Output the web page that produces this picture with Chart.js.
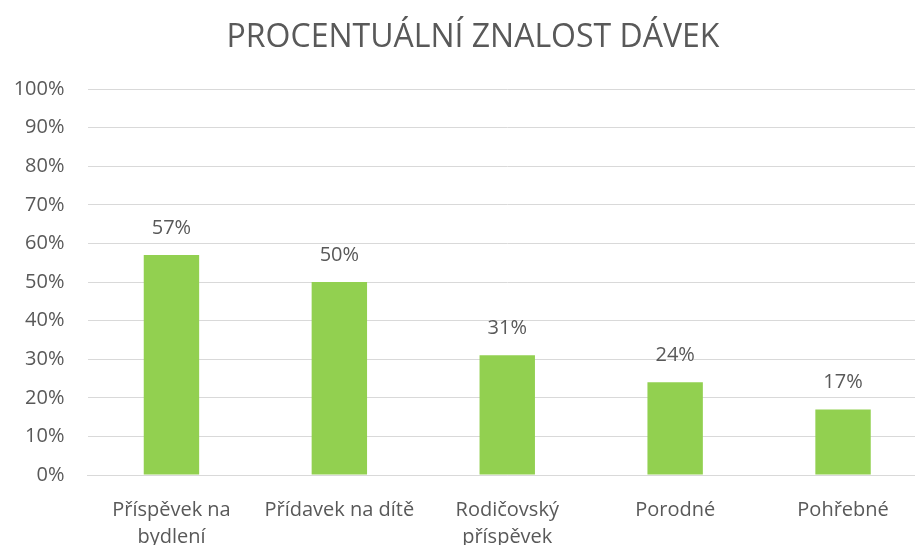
<!DOCTYPE html>
<html>
<head>
<meta charset="utf-8">
<script src="https://cdn.jsdelivr.net/npm/chart.js@4"></script>
<style>
  html, body { margin: 0; padding: 0; overflow: hidden; background: #fff; }
  #wrap { width: 940px; height: 580px; }
</style>
</head>
<body>
<div id="wrap"><canvas id="chart"></canvas></div>
<script>
const categories = [
  ["Příspěvek na", "bydlení"],
  "Přídavek na dítě",
  ["Rodičovský", "příspěvek"],
  "Porodné",
  "Pohřebné",
];
const values = [57, 50, 31, 24, 17];
const yTicks = [0, 10, 20, 30, 40, 50, 60, 70, 80, 90, 100];
const titleText = "PROCENTUÁLNÍ ZNALOST DÁVEK";

const textColor = "#595959";
const fontFamily = "'Open Sans', sans-serif";

// chart title (drawn by hand so it can sit a bit right of the canvas middle)
const titlePlugin = {
  id: "titlePlugin",
  afterDraw(chart) {
    const ctx = chart.ctx;
    ctx.save();
    ctx.fillStyle = textColor;
    ctx.font = "32px " + fontFamily;
    ctx.textAlign = "center";
    ctx.textBaseline = "middle";
    ctx.fillText(titleText, 473, 38);
    ctx.restore();
  },
};

// value labels above the bars
const barLabels = {
  id: "barLabels",
  afterDatasetsDraw(chart) {
    const ctx = chart.ctx;
    const meta = chart.getDatasetMeta(0);
    ctx.save();
    ctx.fillStyle = textColor;
    ctx.font = "20px " + fontFamily;
    ctx.textAlign = "center";
    ctx.textBaseline = "middle";
    meta.data.forEach((bar, i) => {
      ctx.fillText(values[i] + "%", bar.x, bar.y - 27);
    });
    ctx.restore();
  },
};

new Chart(document.getElementById("chart"), {
  type: "bar",
  data: {
    labels: categories,
    datasets: [
      {
        data: values,
        backgroundColor: "#92d050",
        barPercentage: 0.33,
        categoryPercentage: 1,
      },
    ],
  },
  options: {
    responsive: true,
    maintainAspectRatio: false,
    animation: false,
    layout: { padding: { left: 0, right: 13, top: 89, bottom: 0 } },
    plugins: {
      legend: { display: false },
      tooltip: { enabled: false },
      title: { display: false },
    },
    scales: {
      x: {
        grid: { display: false },
        border: { color: "#d9d9d9" },
        ticks: {
          color: textColor,
          font: { family: fontFamily, size: 20, lineHeight: 1.35 },
          padding: 14,
          maxRotation: 0,
        },
        afterFit(scale) { scale.height = 105; },
      },
      y: {
        min: 0,
        max: 100,
        afterBuildTicks(scale) {
          scale.ticks = yTicks.map((v) => ({ value: v }));
        },
        grid: { color: "#d9d9d9", drawTicks: false },
        border: { display: false },
        ticks: {
          color: textColor,
          font: { family: fontFamily, size: 20 },
          padding: 23,
          callback: (v) => v + "%",
        },
        afterFit(scale) { scale.width = 87.5; },
      },
    },
  },
  plugins: [barLabels, titlePlugin],
});
</script>
</body>
</html>
